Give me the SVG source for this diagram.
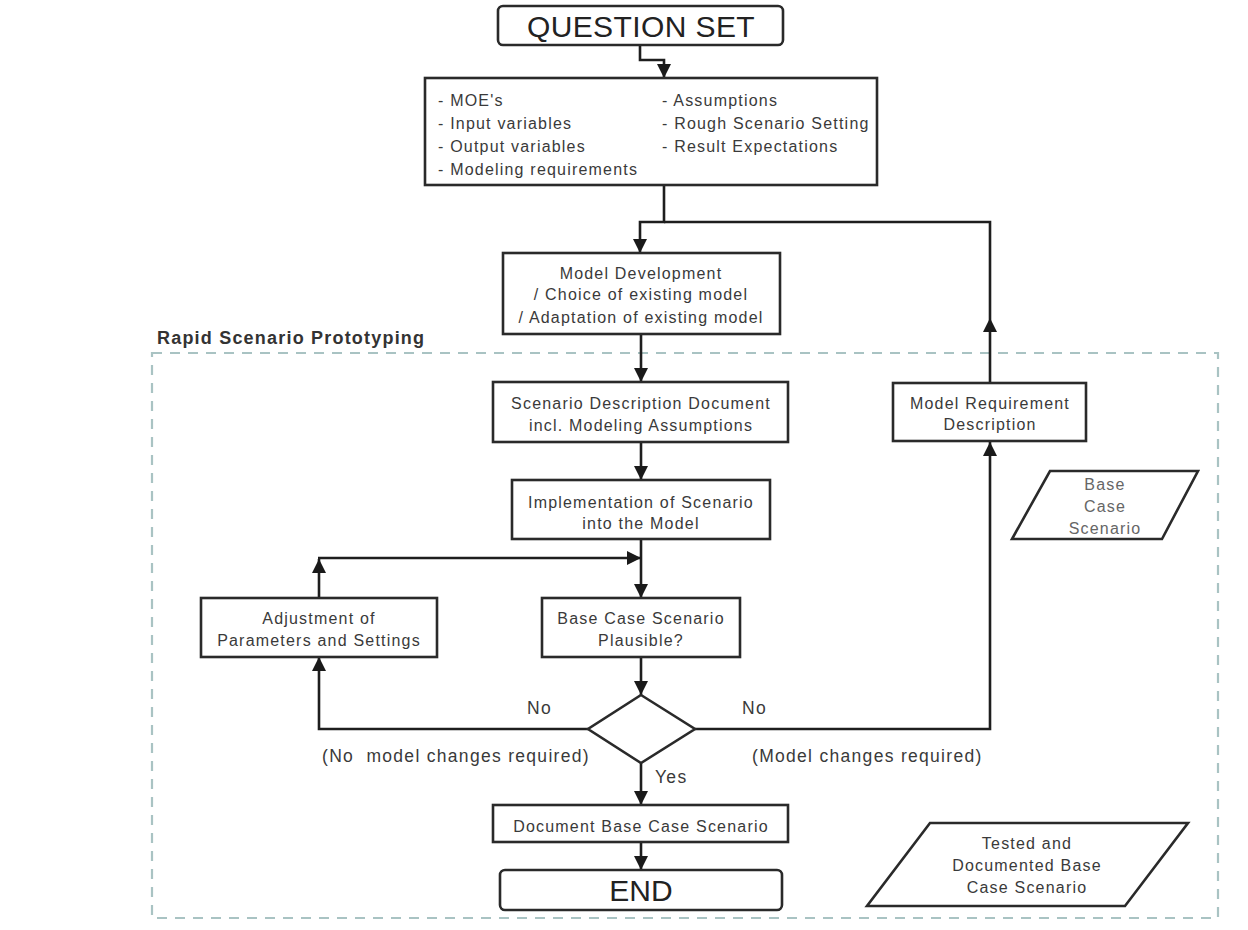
<svg xmlns="http://www.w3.org/2000/svg" width="1248" height="930" viewBox="0 0 1248 930">
<defs>
<marker id="ah" markerUnits="userSpaceOnUse" markerWidth="14" markerHeight="14" viewBox="0 0 12 12" refX="12" refY="6" orient="auto">
<path d="M0,0 L12,6 L0,12 z" fill="#1a1a1a"/>
</marker>
</defs>
<style>
.box{fill:#fff;stroke:#2a2a2a;stroke-width:2.6}
.ln{fill:none;stroke:#1e1e1e;stroke-width:2.6}
.t{font-family:"Liberation Sans",Arial,sans-serif;font-size:16px;fill:#3a3a3a;letter-spacing:1.2px}
.lab{font-family:"Liberation Sans",Arial,sans-serif;font-size:17.5px;fill:#3a3a3a;letter-spacing:1.3px;white-space:pre}
.c{text-anchor:middle}
.big{font-family:"Liberation Sans",Arial,sans-serif;font-size:30px;fill:#222;text-anchor:middle}
.lt{fill:#666}
</style>
<rect width="1248" height="930" fill="#fff"/>

<g id="group-rsp">
<rect x="152" y="353" width="1066" height="565" fill="none" stroke="#a9c3c3" stroke-width="2.2" stroke-dasharray="10,8"/>
<text x="157" y="344" font-family="'Liberation Sans',Arial,sans-serif" font-size="18" font-weight="bold" fill="#333" letter-spacing="1.2">Rapid Scenario Prototyping</text>
</g>

<g id="connectors">
<path class="ln" d="M640,45 V60 H664 V78" marker-end="url(#ah)"/>
<path class="ln" d="M664,185 V222 H640 V253" marker-end="url(#ah)"/>
<path class="ln" d="M990,318 V222 H664"/>
<path class="ln" d="M990,383 V318" marker-end="url(#ah)"/>
<path class="ln" d="M641,334 V382" marker-end="url(#ah)"/>
<path class="ln" d="M641,442 V480" marker-end="url(#ah)"/>
<path class="ln" d="M641,539 V598" marker-end="url(#ah)"/>
<path class="ln" d="M319,598 V559" marker-end="url(#ah)"/>
<path class="ln" d="M318,558 H641" marker-end="url(#ah)"/>
<path class="ln" d="M641,657 V695" marker-end="url(#ah)"/>
<path class="ln" d="M588,729 H319 V657" marker-end="url(#ah)"/>
<path class="ln" d="M695,729 H990 V442" marker-end="url(#ah)"/>
<path class="ln" d="M641,763 V805" marker-end="url(#ah)"/>
<path class="ln" d="M641,842 V870" marker-end="url(#ah)"/>
<text class="lab" x="527" y="714">No</text>
<text class="lab" x="742" y="714">No</text>
<text class="lab" x="322" y="762" xml:space="preserve">(No  model changes required)</text>
<text class="lab" x="752" y="762">(Model changes required)</text>
<text class="lab" x="655" y="783">Yes</text>
</g>

<g id="question-set">
<rect class="box" x="498" y="6" width="285" height="39" rx="5"/>
<text class="big" x="641" y="37" letter-spacing="0.4">QUESTION SET</text>
</g>

<g id="requirements">
<rect class="box" x="425" y="78" width="452" height="107"/>
<text class="t" x="438" y="106">- MOE's</text>
<text class="t" x="438" y="129">- Input variables</text>
<text class="t" x="438" y="152">- Output variables</text>
<text class="t" x="438" y="175">- Modeling requirements</text>
<text class="t" x="662" y="106">- Assumptions</text>
<text class="t" x="662" y="129">- Rough Scenario Setting</text>
<text class="t" x="662" y="152">- Result Expectations</text>
</g>

<g id="model-development">
<rect class="box" x="503" y="253" width="277" height="81"/>
<text class="t c" x="641" y="279">Model Development</text>
<text class="t c" x="641" y="300">/ Choice of existing model</text>
<text class="t c" x="641" y="323">/ Adaptation of existing model</text>
</g>

<g id="scenario-description">
<rect class="box" x="493" y="382" width="295" height="60"/>
<text class="t c" x="641" y="409">Scenario Description Document</text>
<text class="t c" x="641" y="431">incl. Modeling Assumptions</text>
</g>

<g id="implementation">
<rect class="box" x="512" y="480" width="258" height="59"/>
<text class="t c" x="641" y="508">Implementation of Scenario</text>
<text class="t c" x="641" y="529">into the Model</text>
</g>

<g id="adjustment">
<rect class="box" x="201" y="598" width="236" height="59"/>
<text class="t c" x="319" y="624">Adjustment of</text>
<text class="t c" x="319" y="646">Parameters and Settings</text>
</g>

<g id="plausible">
<rect class="box" x="542" y="598" width="198" height="59"/>
<text class="t c" x="641" y="624">Base Case Scenario</text>
<text class="t c" x="641" y="646">Plausible?</text>
</g>

<g id="decision">
<polygon class="box" points="641,695 695,729 641,763 588,729"/>
</g>

<g id="document">
<rect class="box" x="493" y="805" width="295" height="37"/>
<text class="t c" x="641" y="832">Document Base Case Scenario</text>
</g>

<g id="end">
<rect class="box" x="500" y="870" width="282" height="40" rx="5"/>
<text class="big" x="641" y="901">END</text>
</g>

<g id="model-requirement">
<rect class="box" x="893" y="383" width="193" height="58"/>
<text class="t c" x="990" y="409">Model Requirement</text>
<text class="t c" x="990" y="430">Description</text>
</g>

<g id="base-case-scenario">
<polygon class="box" points="1050,471 1198,471 1162,539 1012,539"/>
<text class="t c lt" x="1105" y="490">Base</text>
<text class="t c lt" x="1105" y="512">Case</text>
<text class="t c lt" x="1105" y="534">Scenario</text>
</g>

<g id="tested-documented">
<polygon class="box" points="930,823 1188,823 1125,906 867,906"/>
<text class="t c" x="1027" y="849">Tested and</text>
<text class="t c" x="1027" y="871">Documented Base</text>
<text class="t c" x="1027" y="893">Case Scenario</text>
</g>
</svg>
